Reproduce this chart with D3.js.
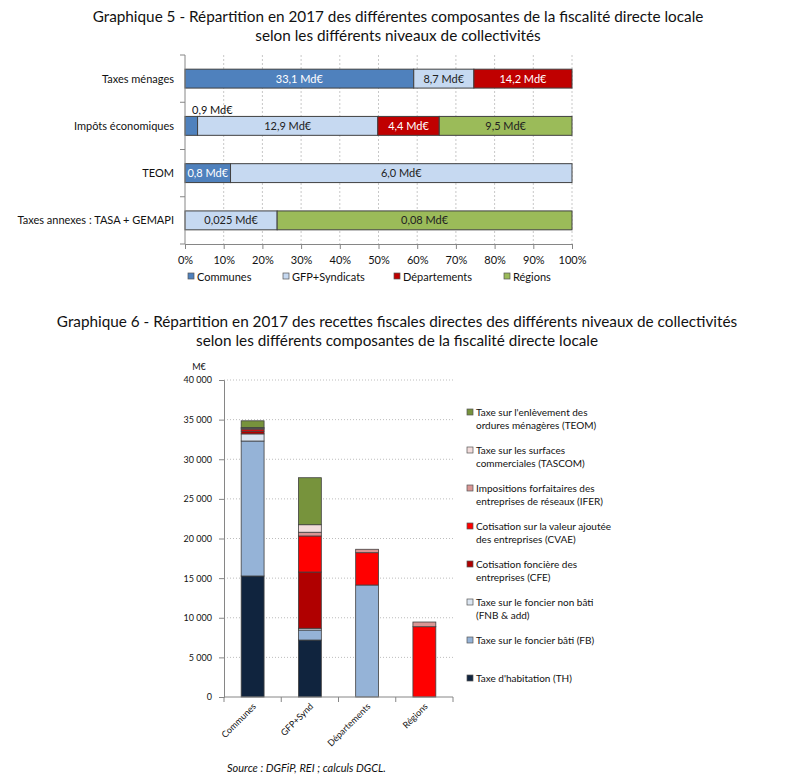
<!DOCTYPE html>
<html>
<head>
<meta charset="utf-8">
<script src="https://cdn.jsdelivr.net/npm/d3@7"></script>
<style>
  body { margin: 0; background: #fff; }
  svg { font-family: Lato, "Open Sans", sans-serif; }
</style>
</head>
<body>
<div id="chart"></div>
<script>
// ---- data, graphique 5 (Md€)
var cats1 = ["Taxes ménages", "Impôts économiques", "TEOM", "Taxes annexes : TASA + GEMAPI"];
var levels = ["Communes", "GFP+Syndicats", "Départements", "Régions"];
var communes = [33.1, 0.9, 0.8, 0];
var gfp = [8.7, 12.9, 6.0, 0.025];
var departements = [14.2, 4.4, 0, 0];
var regions = [0, 9.5, 0, 0.08];
var pctTicks = [0, 0.1, 0.2, 0.3, 0.4, 0.5, 0.6, 0.7, 0.8, 0.9, 1];

// ---- data, graphique 6 (M€)
var groups = ["Communes", "GFP+Synd", "Départements", "Régions"];
var th = [15270, 7190, 0, 0];
var fb = [17030, 1260, 14130, 0];
var fnb = [900, 220, 0, 0];
var cfe = [350, 7100, 0, 0];
var cvae = [250, 4550, 4080, 8870];
var ifer = [100, 470, 430, 590];
var tascom = [100, 950, 0, 0];
var teom = [850, 5930, 0, 0];
var taxKeys = ["th", "fb", "fnb", "cfe", "cvae", "ifer", "tascom", "teom"];
var taxNames = [
  ["Taxe d'habitation (TH)"],
  ["Taxe sur le foncier bâti (FB)"],
  ["Taxe sur le foncier non bâti", "(FNB & add)"],
  ["Cotisation foncière des", "entreprises (CFE)"],
  ["Cotisation sur la valeur ajoutée", "des entreprises (CVAE)"],
  ["Impositions forfaitaires des", "entreprises de réseaux (IFER)"],
  ["Taxe sur les surfaces", "commerciales (TASCOM)"],
  ["Taxe sur l'enlèvement des", "ordures ménagères (TEOM)"]
];
var yTicks = [0, 5000, 10000, 15000, 20000, 25000, 30000, 35000, 40000];

var svg = d3.select("#chart").append("svg")
  .attr("width", 789)
  .attr("height", 776);

// ================= Graphique 5 =================
svg.append("text").attr("x", 398).attr("y", 22).attr("text-anchor", "middle")
  .style("font-size", "15.3px").attr("fill", "#111")
  .text("Graphique 5 - Répartition en 2017 des différentes composantes de la fiscalité directe locale");
svg.append("text").attr("x", 398).attr("y", 41).attr("text-anchor", "middle")
  .style("font-size", "15.3px").attr("fill", "#111")
  .text("selon les différents niveaux de collectivités");

var top1 = { left: 185, right: 572, top: 55, bottom: 244 };
var rows1 = cats1.map(function(c, i) {
  return { cat: c, Communes: communes[i], "GFP+Syndicats": gfp[i], "Départements": departements[i], "Régions": regions[i] };
});
var stack1 = d3.stack().keys(levels).offset(d3.stackOffsetExpand)(rows1);

var x1 = d3.scaleLinear().domain([0, 1]).range([top1.left, top1.right]);
var y1 = d3.scaleBand().domain(cats1).range([top1.top, top1.bottom]).paddingInner(0.6).paddingOuter(0.3);
var colors1 = { "Communes": "#4F81BD", "GFP+Syndicats": "#C6D9F1", "Départements": "#C00000", "Régions": "#9BBB59" };
var textCol1 = { "Communes": "#fff", "GFP+Syndicats": "#222", "Départements": "#fff", "Régions": "#222" };

var g1 = svg.append("g");

// gridlines
g1.selectAll("line.grid").data(pctTicks.slice(1)).enter().append("line")
  .attr("x1", d => x1(d)).attr("x2", d => x1(d))
  .attr("y1", top1.top).attr("y2", top1.bottom)
  .attr("stroke", "#c8c8c8").attr("stroke-dasharray", "2,2");

var fmtMd = function(v) {
  var s = v < 0.1 ? String(v) : v.toFixed(1);
  return s.replace(".", ",") + " Md€";
};

stack1.forEach(function(layer) {
  var key = layer.key;
  layer.forEach(function(d) {
    var v = d.data[key];
    if (!v) return;
    var xa = x1(d[0]), xb = x1(d[1]);
    var yb = y1(d.data.cat);
    g1.append("rect")
      .attr("x", xa).attr("y", yb)
      .attr("width", xb - xa).attr("height", y1.bandwidth())
      .attr("fill", colors1[key])
      .attr("stroke", "#404040").attr("stroke-width", 1);
    if (xb - xa < 30) {
      // too narrow: label above the bar
      g1.append("text").attr("x", xa + 7).attr("y", yb - 2)
        .style("font-size", "11px").attr("fill", "#111")
        .text(fmtMd(v));
    } else {
      g1.append("text").attr("x", (xa + xb) / 2).attr("y", yb + y1.bandwidth() / 2 + 4)
        .attr("text-anchor", "middle")
        .style("font-size", "11px").attr("fill", textCol1[key])
        .text(fmtMd(v));
    }
  });
});

// axes
var yAxis1 = g1.append("g");
yAxis1.append("line").attr("x1", top1.left).attr("x2", top1.left)
  .attr("y1", top1.top).attr("y2", top1.bottom).attr("stroke", "#868686");
var bandStep = (top1.bottom - top1.top) / cats1.length;
d3.range(cats1.length + 1).forEach(function(i) {
  yAxis1.append("line").attr("x1", top1.left - 5).attr("x2", top1.left)
    .attr("y1", top1.top + i * bandStep).attr("y2", top1.top + i * bandStep)
    .attr("stroke", "#868686");
});
cats1.forEach(function(c) {
  yAxis1.append("text").attr("x", 174).attr("y", y1(c) + y1.bandwidth() / 2 + 4)
    .attr("text-anchor", "end").style("font-size", "11px").attr("fill", "#111")
    .text(c);
});

var xAxis1 = d3.axisBottom(x1).tickValues(pctTicks).tickFormat(d3.format(".0%")).tickSize(5).tickPadding(7);
var xg1 = g1.append("g").attr("transform", "translate(0," + top1.bottom + ")").call(xAxis1);
xg1.select(".domain").attr("stroke", "#868686");
xg1.selectAll(".tick line").attr("stroke", "#868686");
xg1.selectAll(".tick text").style("font-size", "11px").style("font-family", "Lato").attr("fill", "#111");

// legend
var leg1x = [188, 283, 394, 504];
levels.forEach(function(l, i) {
  svg.append("rect").attr("x", leg1x[i]).attr("y", 273).attr("width", 6).attr("height", 6)
    .attr("fill", colors1[l]).attr("stroke", "#555").attr("stroke-width", 0.7);
  svg.append("text").attr("x", leg1x[i] + 9).attr("y", 281)
    .style("font-size", "11px").attr("fill", "#111").text(l);
});

// ================= Graphique 6 =================
svg.append("text").attr("x", 397).attr("y", 327).attr("text-anchor", "middle")
  .style("font-size", "15.3px").attr("fill", "#111")
  .text("Graphique 6 - Répartition en 2017 des recettes fiscales directes des différents niveaux de collectivités");
svg.append("text").attr("x", 397).attr("y", 346).attr("text-anchor", "middle")
  .style("font-size", "15.3px").attr("fill", "#111")
  .text("selon les différents composantes de la fiscalité directe locale");

var p2 = { left: 224, right: 453, top: 380, bottom: 697 };
var series = { th: th, fb: fb, fnb: fnb, cfe: cfe, cvae: cvae, ifer: ifer, tascom: tascom, teom: teom };
var rows2 = groups.map(function(gname, i) {
  var r = { group: gname };
  taxKeys.forEach(function(k) { r[k] = series[k][i]; });
  return r;
});
var stack2 = d3.stack().keys(taxKeys)(rows2);
var colors2 = {
  th: "#10243E", fb: "#95B3D7", fnb: "#DCE6F2", cfe: "#B00000",
  cvae: "#FF0000", ifer: "#D99694", tascom: "#F2DCDB", teom: "#77933C"
};

var x2 = d3.scaleBand().domain(groups).range([p2.left, p2.right]).paddingInner(0.6).paddingOuter(0.3);
var y2 = d3.scaleLinear().domain([0, 40000]).range([p2.bottom, p2.top]);
var fr = d3.formatLocale({ decimal: ",", thousands: " ", grouping: [3], currency: ["", " €"] });

var g2 = svg.append("g");
g2.selectAll("line.grid").data(yTicks.slice(1)).enter().append("line")
  .attr("x1", p2.left).attr("x2", p2.right)
  .attr("y1", d => y2(d)).attr("y2", d => y2(d))
  .attr("stroke", "#bdbdbd").attr("stroke-dasharray", "1,2");

stack2.forEach(function(layer) {
  layer.forEach(function(d) {
    if (d[1] - d[0] <= 0) return;
    g2.append("rect")
      .attr("x", x2(d.data.group)).attr("width", x2.bandwidth())
      .attr("y", y2(d[1])).attr("height", y2(d[0]) - y2(d[1]))
      .attr("fill", colors2[layer.key])
      .attr("stroke", "#404040").attr("stroke-width", 0.8);
  });
});

var yAxis2 = d3.axisLeft(y2).tickValues(yTicks).tickFormat(fr.format(",")).tickSize(5).tickPadding(7);
var yg2 = g2.append("g").attr("transform", "translate(" + p2.left + ",0)").call(yAxis2);
yg2.select(".domain").attr("stroke", "#868686");
yg2.selectAll(".tick line").attr("stroke", "#868686");
yg2.selectAll(".tick text").style("font-size", "9px").style("font-family", "Lato").attr("fill", "#111");

svg.append("text").attr("x", 199).attr("y", 370).attr("text-anchor", "middle")
  .style("font-size", "9px").attr("fill", "#111").text("M€");

// x axis
var xg2 = g2.append("g");
xg2.append("line").attr("x1", p2.left).attr("x2", p2.right)
  .attr("y1", p2.bottom).attr("y2", p2.bottom).attr("stroke", "#868686");
var step2 = (p2.right - p2.left) / groups.length;
d3.range(groups.length + 1).forEach(function(i) {
  xg2.append("line").attr("x1", p2.left + i * step2).attr("x2", p2.left + i * step2)
    .attr("y1", p2.bottom).attr("y2", p2.bottom + 5).attr("stroke", "#868686");
});
groups.forEach(function(gname) {
  var cx = x2(gname) + x2.bandwidth() / 2;
  xg2.append("text")
    .attr("transform", "translate(" + (cx + 4) + "," + (p2.bottom + 10) + ") rotate(-45)")
    .attr("text-anchor", "end").style("font-size", "9px").attr("fill", "#111")
    .text(gname);
});

// legend, top = last series
var legTop = 416;
taxKeys.slice().reverse().forEach(function(k, i) {
  var idx = taxKeys.indexOf(k);
  var yy = legTop + i * 38;
  svg.append("rect").attr("x", 467).attr("y", yy - 7).attr("width", 6).attr("height", 6)
    .attr("fill", colors2[k]).attr("stroke", "#555").attr("stroke-width", 0.7);
  taxNames[idx].forEach(function(line, j) {
    svg.append("text").attr("x", 476).attr("y", yy + j * 13)
      .style("font-size", "10px").attr("fill", "#111").text(line);
  });
});

svg.append("text").attr("x", 227).attr("y", 772)
  .style("font-size", "11px").style("font-style", "italic").attr("fill", "#111")
  .text("Source : DGFiP, REI ; calculs DGCL.");
</script>
</body>
</html>
